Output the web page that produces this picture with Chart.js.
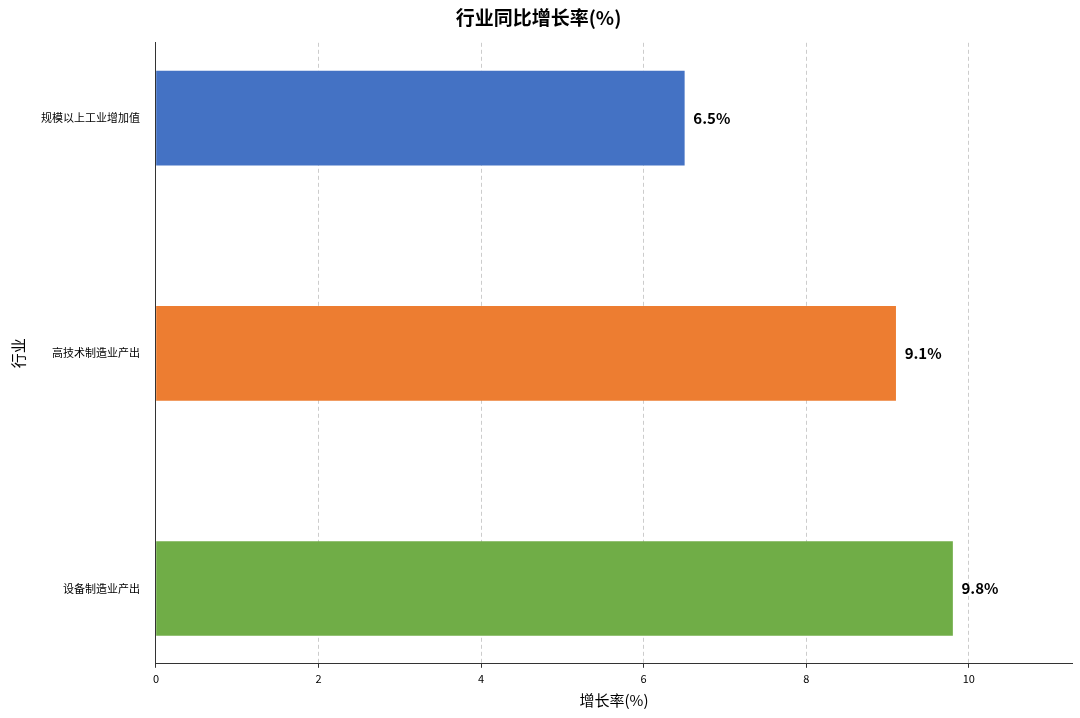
<!DOCTYPE html>
<html><head><meta charset="utf-8">
<script src="https://cdn.jsdelivr.net/npm/chart.js@4"></script>
<style>body{margin:0;background:#fff}#wrap{width:1080px;height:718px}</style>
</head><body><div id="wrap"><canvas id="c"></canvas></div>
<script>
// 数据
const categories = ["规模以上工业增加值", "高技术制造业产出", "设备制造业产出"];
const values = [6.5, 9.1, 9.8];
const colors = ["#4472C4", "#ED7D31", "#70AD47"];
const xTicks = [0, 2, 4, 6, 8, 10];

const FONT = "'Noto Sans CJK SC', 'Noto Sans', sans-serif";

const labelPlugin = {
  id: "valueLabels",
  afterDatasetsDraw(chart) {
    const ctx = chart.ctx;
    const meta = chart.getDatasetMeta(0);
    ctx.save();
    ctx.font = "bold 15px " + FONT;
    ctx.fillStyle = "#000";
    ctx.textBaseline = "middle";
    meta.data.forEach((bar, i) => {
      ctx.fillText(values[i].toFixed(1) + "%", bar.x + 9, bar.y);
    });
    ctx.restore();
  }
};

new Chart(document.getElementById("c"), {
  type: "bar",
  data: {
    datasets: [{
      data: values.map((v, i) => ({ x: v, y: i })),
      backgroundColor: colors,
      barThickness: 94
    }]
  },
  options: {
    indexAxis: "y",
    responsive: true,
    maintainAspectRatio: false,
    animation: false,
    layout: { padding: { left: 5, right: 8, top: 0, bottom: 5 } },
    plugins: {
      legend: { display: false },
      tooltip: { enabled: false },
      title: {
        display: true, text: "行业同比增长率(%)", color: "#000",
        font: { family: FONT, size: 19, weight: "bold" },
        padding: { top: 6, bottom: 14 }
      }
    },
    scales: {
      x: {
        type: "linear", min: 0, max: 11.27,
        afterBuildTicks(s) { s.ticks = xTicks.map(v => ({ value: v })); },
        grid: { color: "#ccc", drawTicks: true, tickColor: "#333", tickLength: 4 },
        border: { display: true, color: "#333", dash: [4, 3] },
        ticks: { color: "#000", font: { family: FONT, size: 11 }, padding: 4 },
        title: { display: true, text: "增长率(%)", color: "#000", font: { family: FONT, size: 15 }, padding: { top: 2 } }
      },
      y: {
        type: "linear", min: -0.32, max: 2.32, reverse: true, offset: false,
        afterBuildTicks(s) { s.ticks = categories.map((c, i) => ({ value: i })); },
        grid: { display: false },
        border: { display: true, color: "#333" },
        ticks: { color: "#000", font: { family: FONT, size: 11 }, padding: 8, callback: v => categories[v] },
        title: { display: true, text: "行业", color: "#000", font: { family: FONT, size: 15 }, padding: { bottom: 6 } }
      }
    }
  },
  plugins: [labelPlugin]
});
</script></body></html>
